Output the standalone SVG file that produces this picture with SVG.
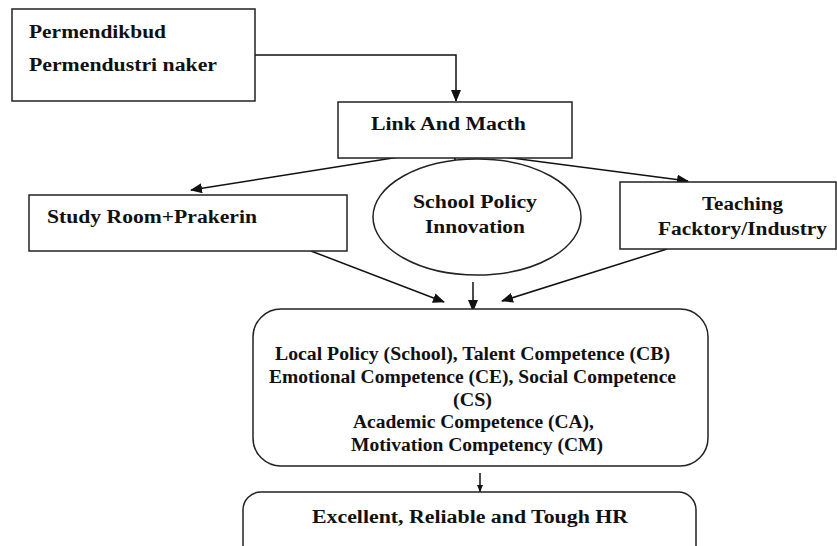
<svg xmlns="http://www.w3.org/2000/svg" width="837" height="546" viewBox="0 0 837 546">
<style>
.box{fill:#fff;stroke:#222;stroke-width:1.5}
.t{font-family:"Liberation Serif","Times New Roman",serif;font-weight:bold;font-size:18px;fill:#111}
.c{text-anchor:middle}
.ln{fill:none;stroke:#111;stroke-width:1.5}
</style>
<defs>
<marker id="ah" markerWidth="12" markerHeight="10" refX="11" refY="5" orient="auto" markerUnits="userSpaceOnUse">
<path d="M0,0 L12,5 L0,10 Z" fill="#111"/>
</marker>
<marker id="ahs" markerWidth="7" markerHeight="6" refX="7" refY="3" orient="auto" markerUnits="userSpaceOnUse">
<path d="M0,0 L7,3 L0,6 Z" fill="#111"/>
</marker>
</defs>
<rect width="837" height="546" fill="#fff"/>
<g id="connectors">
<polyline class="ln" points="255,55 456,55 456,101" marker-end="url(#ah)"/>
<line class="ln" x1="455" y1="137" x2="455" y2="160" stroke-width="1" marker-end="url(#ahs)"/>
<line class="ln" x1="418" y1="154" x2="191" y2="190" marker-end="url(#ah)"/>
<line class="ln" x1="473" y1="153" x2="688" y2="181" marker-end="url(#ah)"/>
<line class="ln" x1="311" y1="251" x2="444" y2="302" marker-end="url(#ah)"/>
<line class="ln" x1="473" y1="282" x2="473" y2="311" marker-end="url(#ah)"/>
<line class="ln" x1="667" y1="249" x2="502" y2="301" marker-end="url(#ah)"/>
<line class="ln" x1="480" y1="473" x2="480" y2="492" stroke-width="1" marker-end="url(#ahs)"/>
</g>
<g id="permen">
<rect class="box" x="12" y="9" width="243" height="92"/>
<text class="t" x="29" y="38" textLength="137" lengthAdjust="spacingAndGlyphs">Permendikbud</text>
<text class="t" x="29" y="71" textLength="188" lengthAdjust="spacingAndGlyphs">Permendustri naker</text>
</g>
<g id="link">
<rect class="box" x="338" y="102" width="234" height="56" fill="none"/>
<text class="t" x="371" y="130" textLength="155" lengthAdjust="spacingAndGlyphs">Link And Macth</text>
</g>
<g id="study">
<rect class="box" x="29" y="195" width="318" height="56"/>
<text class="t" x="47" y="223" textLength="210" lengthAdjust="spacingAndGlyphs">Study Room+Prakerin</text>
</g>
<g id="policy">
<ellipse class="box" cx="477" cy="217" rx="104" ry="58" fill="none"/>
<text class="t c" x="475" y="208" textLength="124" lengthAdjust="spacingAndGlyphs">School Policy</text>
<text class="t c" x="475" y="233" textLength="100" lengthAdjust="spacingAndGlyphs">Innovation</text>
</g>
<g id="teaching">
<rect class="box" x="620" y="182" width="216" height="67"/>
<text class="t c" x="742.5" y="210" textLength="81" lengthAdjust="spacingAndGlyphs">Teaching</text>
<text class="t c" x="742.5" y="235" textLength="169" lengthAdjust="spacingAndGlyphs">Facktory/Industry</text>
</g>
<g id="competence">
<rect class="box" x="253" y="309" width="455" height="157" rx="28" ry="28"/>
<text class="t c" x="472.5" y="360" textLength="395" lengthAdjust="spacingAndGlyphs">Local Policy (School), Talent Competence (CB)</text>
<text class="t c" x="472.5" y="383" textLength="407" lengthAdjust="spacingAndGlyphs">Emotional Competence (CE), Social Competence</text>
<text class="t c" x="472.5" y="406" textLength="39" lengthAdjust="spacingAndGlyphs">(CS)</text>
<text class="t c" x="473.5" y="428" textLength="241" lengthAdjust="spacingAndGlyphs">Academic Competence (CA),</text>
<text class="t c" x="477" y="451" textLength="252" lengthAdjust="spacingAndGlyphs">Motivation Competency (CM)</text>
</g>
<g id="hr">
<rect class="box" x="243" y="492" width="453" height="80" rx="18" ry="18"/>
<text class="t c" x="470" y="523" textLength="316" lengthAdjust="spacingAndGlyphs">Excellent, Reliable and Tough HR</text>
</g>
</svg>
